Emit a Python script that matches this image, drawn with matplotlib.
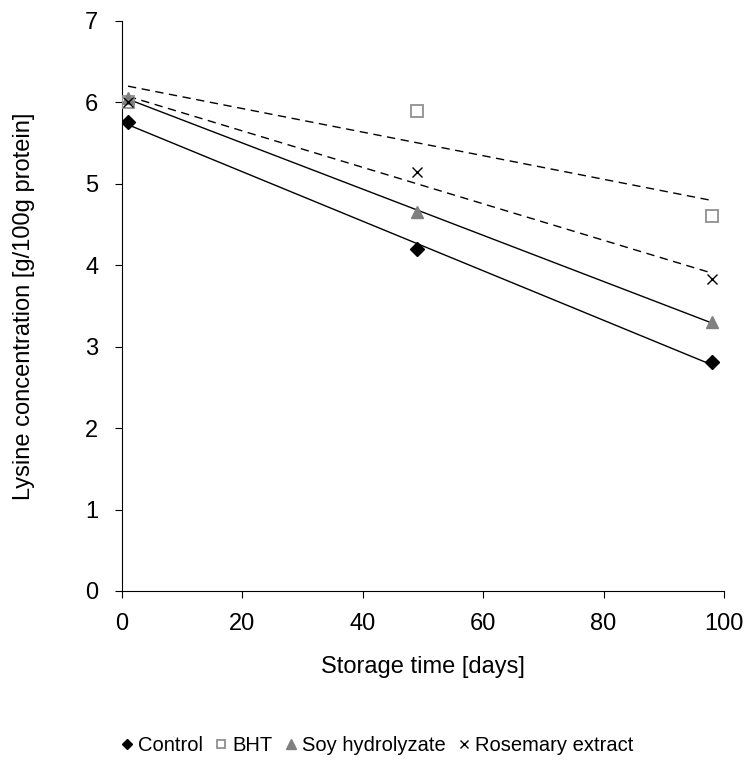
import numpy as np
import matplotlib as mpl
mpl.use('Agg')
import matplotlib.pyplot as plt

plt.rcParams['font.family'] = ['Liberation Sans', 'DejaVu Sans']

days = [1, 49, 98]
control = [5.76, 4.2, 2.81]
bht = [6.0, 5.9, 4.6]
soy = [6.05, 4.66, 3.3]
rosemary = [6.0, 5.15, 3.83]

fig = plt.figure(figsize=(7.47, 7.69), dpi=100)
ax = fig.add_axes([0.1633, 0.2315, 0.8059, 0.7412])


def trend(y, ls):
    k, b = np.polyfit(days, y, 1)
    xs = np.array([days[0], days[-1]])
    ax.plot(xs, k * xs + b, color='black', lw=1, ls=ls, zorder=1)


trend(control, '-')
trend(soy, '-')
trend(bht, (0, (6, 4)))
trend(rosemary, (0, (6, 4)))

ax.plot(days, control, 'D', color='black', ms=7, ls='none', label='Control', zorder=3)
ax.plot(days, bht, 's', mfc='white', mec='#909090', mew=1.3, ms=8, ls='none', label='BHT', zorder=3)
ax.plot(days, soy, '^', color='#808080', ms=9, ls='none', label='Soy hydrolyzate', zorder=3)
ax.plot(days, rosemary, 'x', color='black', ms=7, mew=1, ls='none', label='Rosemary extract', zorder=3)

ax.set_xlim(0, 100)
ax.set_ylim(0, 7)
ax.set_xticks(range(0, 101, 20))
ax.set_yticks(range(0, 8))
ax.spines['top'].set_visible(False)
ax.spines['right'].set_visible(False)
ax.tick_params(direction='out', length=5, labelsize=17)
ax.tick_params(axis='x', pad=11)
ax.tick_params(axis='y', pad=12)
ax.set_xlabel('Storage time [days]', fontsize=17, labelpad=15)
ax.set_ylabel('Lysine concentration [g/100g protein]', fontsize=17, labelpad=36)

fig.legend(loc='center', bbox_to_anchor=(0.505, 0.031), ncol=4, frameon=False,
           fontsize=14.5, handlelength=0.6, handletextpad=0.25, columnspacing=0.6,
           markerscale=0.75)

fig.savefig('out.png', dpi=100)
